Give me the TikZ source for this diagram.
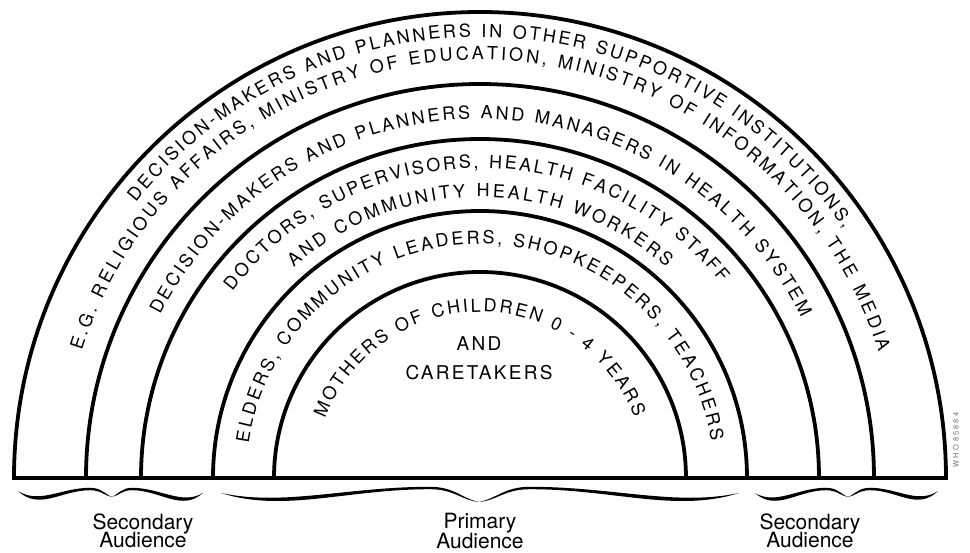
\documentclass[tikz,border=0pt]{standalone}
\usepackage{fontspec}
\setmainfont{TeX Gyre Heros}
\setsansfont{TeX Gyre Heros}
\usetikzlibrary{decorations.text}

% type sizes (1pt = 1 unit of the drawing)
\newcommand\bandfont{\fontsize{18}{20}\selectfont}
\newcommand\corefont{\fontsize{19}{20}\selectfont\addfontfeatures{LetterSpace=12}}
\newcommand\lblfont{\fontsize{21}{22}\selectfont}
\newcommand\stampfont{\fontsize{7.5}{8}\selectfont\addfontfeatures{LetterSpace=25}}

% one half of a calligraphic brace: end (#1,#4), crest (#2,#5), tip (#3,#6), sag control #7
\newcommand\halfbrace[7]{%
  \fill[black] (#1,#4)
    .. controls ({#1+0.3*((#2)-(#1))},{#7+2.5}) and ({#2-0.4*((#2)-(#1))},{#5+1.2}) .. (#2,{#5+1.2})
    .. controls ({#2+0.5*((#3)-(#2))},{#5+1.2}) and ({#3-0.35*((#3)-(#2))},{#6+3.5}) .. (#3,#6)
    .. controls ({#3-0.35*((#3)-(#2))},{#6+1.5}) and ({#2+0.5*((#3)-(#2))},{#5-1.2}) .. (#2,{#5-1.2})
    .. controls ({#2-0.4*((#2)-(#1))},{#5-1.2}) and ({#1+0.3*((#2)-(#1))},{#7-4}) .. (#1,#4) -- cycle;}

\tikzset{
  ring/.style={line width=3.8pt},
  ground/.style={line width=4.3pt},
  bandtext/.style={decorate, decoration={text along path, text align=fit to path, text={|\bandfont|#1}}},
  corelabel/.style={anchor=base, inner sep=0pt, font=\corefont},
  audlabel/.style={anchor=base, inner sep=0pt, font=\lblfont},
}

\begin{document}
\begin{tikzpicture}[x=1pt,y=1pt]
  \fill[white] (-480,-74) rectangle (490,478);
  \useasboundingbox (-480,-74) rectangle (490,478);

  % nested half rings
  \foreach \r in {466,394,339,267,206}
    \draw[ring] (\r,0) arc[start angle=0,end angle=180,radius=\r];
  \draw[ground] (-468,0) -- (468,0);

  % outer band, two lines
  \path[bandtext={DECISION-MAKERS AND PLANNERS IN OTHER SUPPORTIVE INSTITUTIONS,}]
    (141.3:441) arc[start angle=141.3,end angle=34.4,radius=441];
  \path[bandtext={E.G. RELIGIOUS AFFAIRS, MINISTRY OF EDUCATION, MINISTRY OF INFORMATION, THE MEDIA}]
    (162.3:418) arc[start angle=162.3,end angle=17.6,radius=418];

  % health system band
  \path[bandtext={DECISION-MAKERS AND PLANNERS AND MANAGERS IN HEALTH SYSTEM}]
    (153:359) arc[start angle=153,end angle=26.5,radius=359];

  % health staff band, two lines
  \path[bandtext={DOCTORS, SUPERVISORS, HEALTH FACILITY STAFF}]
    (143:310) arc[start angle=143,end angle=39,radius=310];
  \path[bandtext={AND COMMUNITY HEALTH WORKERS}]
    (131.5:281) arc[start angle=131.5,end angle=48.5,radius=281];

  % community band
  \path[bandtext={ELDERS, COMMUNITY LEADERS, SHOPKEEPERS, TEACHERS}]
    (171.5:234) arc[start angle=171.5,end angle=9,radius=234];

  % core
  \path[bandtext={MOTHERS OF CHILDREN 0 - 4 YEARS}]
    (159:166) arc[start angle=159,end angle=21.5,radius=166];
  \node[corelabel] (coreand) at (-1,127) {AND};
  \node[corelabel] (corecare) at (-1,98) {CARETAKERS};

  % braces under the base line
  \halfbrace{-462}{-390}{-368}{-13}{-11}{-19}{-29}
  \halfbrace{-277}{-348}{-368}{-15}{-11}{-19}{-30}
  \halfbrace{-259}{-50}{-1}{-15}{-10}{-24}{-31}
  \halfbrace{259}{50}{-1}{-15}{-10}{-24}{-31}
  \halfbrace{275}{346}{368}{-15}{-11}{-19}{-30}
  \halfbrace{458}{390}{368}{-13}{-11}{-19}{-29}

  % audience labels
  \node[audlabel] (secLa) at (-337,-51) {Secondary};
  \node[audlabel] (secLb) at (-337,-69) {Audience};
  \node[audlabel] (priA) at (0,-50) {Primary};
  \node[audlabel] (priB) at (0,-70) {Audience};
  \node[audlabel] (secRa) at (330,-51) {Secondary};
  \node[audlabel] (secRb) at (330,-69) {Audience};

  % plate number
  \node[rotate=90, text=black!55, font=\stampfont, inner sep=0pt] (plate) at (476,38) {WHO 85884};
\end{tikzpicture}
\end{document}
